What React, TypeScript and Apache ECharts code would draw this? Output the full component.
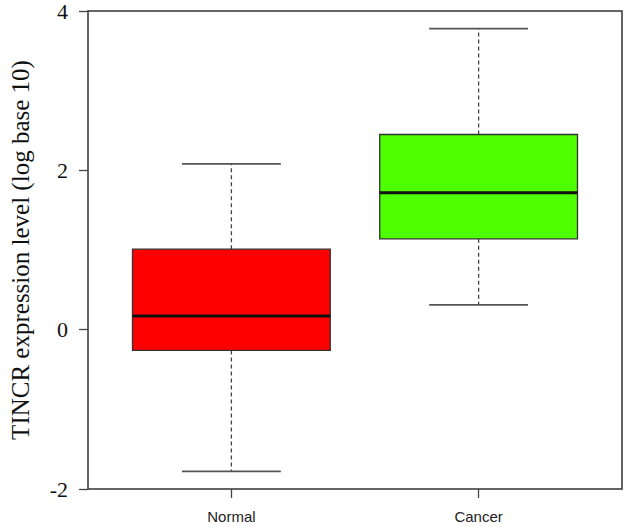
import React, { useEffect, useRef } from "react";
import * as echarts from "echarts";

const categories = ["Normal", "Cancer"];
const lowerWhisker = [-1.78, 0.31];
const q1 = [-0.26, 1.14];
const medians = [0.17, 1.72];
const q3 = [1.01, 2.45];
const upperWhisker = [2.08, 3.78];
const yTicks = [-2, 0, 2, 4];

const boxColors = ["#ff0000", "#4dff00"];

export default function App() {
  const ref = useRef<HTMLDivElement>(null);
  useEffect(() => {
    if (!ref.current) return;
    const chart = echarts.init(ref.current, null, { renderer: "svg" });
    const data = categories.map((c, i) => [i + 1, lowerWhisker[i], q1[i], medians[i], q3[i], upperWhisker[i]]);
    const serif = "'Liberation Serif', 'Times New Roman', serif";
    chart.setOption({
      animation: false,
      backgroundColor: "#ffffff",
      grid: {
        left: 85,
        right: 8,
        top: 8,
        bottom: 38,
        show: true,
        borderColor: "#333",
        borderWidth: 1.5,
        backgroundColor: "transparent",
      },
      xAxis: {
        type: "value",
        min: 0.42,
        max: 2.58,
        position: "bottom",
        splitLine: { show: false },
        axisLine: { show: false, onZero: false },
        axisTick: {
          show: true,
          inside: false,
          length: 9,
          customValues: [1, 2],
          lineStyle: { color: "#444", width: 1.3 },
        },
        axisLabel: {
          show: true,
          customValues: [1, 2],
          margin: 20,
          fontFamily: "'Liberation Sans', Arial, sans-serif",
          fontSize: 15,
          color: "#222",
          formatter: (v: number) => categories[Math.round(v) - 1] ?? "",
        },
      },
      yAxis: {
        type: "value",
        min: yTicks[0],
        max: yTicks[yTicks.length - 1],
        interval: 2,
        position: "left",
        splitLine: { show: false },
        axisLine: { show: false, onZero: false },
        axisTick: { show: true, inside: false, length: 9, lineStyle: { color: "#444", width: 1.3 } },
        axisLabel: {
          margin: 20,
          fontFamily: serif,
          fontSize: 22,
          color: "#111",
        },
        name: "TINCR expression level (log base 10)",
        nameLocation: "middle",
        nameRotate: 90,
        nameGap: 55,
        nameTextStyle: { fontFamily: serif, fontSize: 25, color: "#111" },
      },
      series: [
        {
          type: "custom",
          data,
          clip: false,
          renderItem: (params: any, api: any) => {
            const x = api.value(0);
            const lo = api.value(1);
            const a = api.value(2);
            const m = api.value(3);
            const b = api.value(4);
            const hi = api.value(5);
            const color = boxColors[params.dataIndex];
            const tl = api.coord([x - 0.4, b]);
            const br = api.coord([x + 0.4, a]);
            const pHi = api.coord([x, hi]);
            const pLo = api.coord([x, lo]);
            const pB = api.coord([x, b]);
            const pA = api.coord([x, a]);
            const capL = api.coord([x - 0.2, hi])[0];
            const capR = api.coord([x + 0.2, hi])[0];
            const mL = api.coord([x - 0.4, m]);
            const mR = api.coord([x + 0.4, m]);
            const whiskerStyle = { stroke: "#444", lineWidth: 1.3, lineDash: [4, 3] };
            const capStyle = { stroke: "#555", lineWidth: 1.8 };
            return {
              type: "group",
              children: [
                { type: "line", shape: { x1: pB[0], y1: pB[1], x2: pHi[0], y2: pHi[1] }, style: whiskerStyle },
                { type: "line", shape: { x1: pA[0], y1: pA[1], x2: pLo[0], y2: pLo[1] }, style: whiskerStyle },
                { type: "line", shape: { x1: capL, y1: pHi[1], x2: capR, y2: pHi[1] }, style: capStyle },
                { type: "line", shape: { x1: capL, y1: pLo[1], x2: capR, y2: pLo[1] }, style: capStyle },
                {
                  type: "rect",
                  shape: { x: tl[0], y: tl[1], width: br[0] - tl[0], height: br[1] - tl[1] },
                  style: { fill: color, stroke: "#333", lineWidth: 1.3 },
                },
                { type: "line", shape: { x1: mL[0], y1: mL[1], x2: mR[0], y2: mR[1] }, style: { stroke: "#111", lineWidth: 3 } },
              ],
            };
          },
        },
      ],
    });
    return () => chart.dispose();
  }, []);
  return <div ref={ref} style={{ width: 630, height: 527, position: "absolute", left: 0, top: 0 }} />;
}
